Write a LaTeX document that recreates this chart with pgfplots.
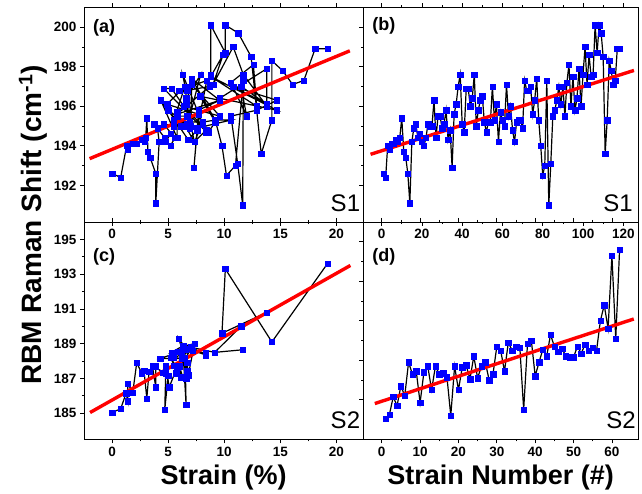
\documentclass[border=0pt]{standalone}
\usepackage{fontspec}
\setmainfont{Liberation Sans}
\usepackage{pgfplots}
\pgfplotsset{compat=1.18}
\usepackage{pgfplotstable}

\definecolor{ptblue}{RGB}{0,0,255}
\definecolor{fitred}{RGB}{255,0,0}

% sample S1: strain number, strain (%), RBM shift
\pgfplotstableread{
idx strain shift
1 0.00 192.6
2 0.77 192.4
3 1.30 194.0
4 1.40 193.8
5 1.85 194.1
6 2.20 194.1
7 2.65 194.3
8 2.90 194.2
9 3.00 194.4
10 3.10 195.4
11 3.20 193.7
12 3.40 193.4
13 3.90 192.6
14 3.90 191.1
15 4.20 194.2
16 4.05 194.9
17 3.75 195.1
18 4.70 194.4
19 5.20 194.6
20 4.80 194.2
21 5.20 194.0
22 5.60 194.4
23 4.60 195.1
24 5.50 195.0
25 6.10 195.0
26 4.35 196.3
27 5.80 194.4
28 5.80 195.5
29 6.70 195.5
30 6.90 194.9
31 6.70 195.1
32 5.00 195.8
33 6.80 194.3
34 7.60 194.8
35 7.30 192.9
36 7.70 195.6
37 4.90 196.1
38 6.50 197.0
39 6.30 197.6
40 8.10 195.1
41 8.40 194.7
42 4.60 196.9
43 5.30 196.9
44 6.40 196.0
45 6.60 196.4
46 7.90 197.6
47 6.70 195.0
48 7.70 195.8
49 9.60 196.3
50 7.85 196.5
51 9.20 195.2
52 8.60 194.7
53 8.10 195.2
54 6.90 195.2
55 6.50 197.0
56 5.50 195.3
57 6.60 196.1
58 7.35 194.2
59 5.80 195.7
60 5.50 195.3
61 7.00 195.0
62 7.10 197.1
63 9.60 195.5
64 6.40 196.0
65 8.40 194.8
66 7.35 194.2
67 8.10 195.2
68 9.20 195.3
69 10.60 195.3
70 7.60 194.9
71 8.45 197.3
72 6.00 196.8
73 6.70 196.8
74 8.70 197.0
75 5.80 195.6
76 9.60 196.3
77 7.10 197.4
78 9.20 195.3
79 9.80 194.0
80 10.20 192.5
81 11.00 193.0
82 11.70 197.3
83 11.65 191.0
84 11.20 193.1
85 10.60 195.5
86 12.90 195.8
87 14.70 196.3
88 10.80 197.0
89 13.80 196.1
90 11.50 197.0
91 12.00 195.5
92 10.60 197.2
93 12.60 198.1
94 12.90 196.0
95 8.80 197.5
96 14.70 195.8
97 9.60 196.4
98 13.80 197.9
99 13.80 196.0
100 11.70 197.6
101 10.80 199.0
102 9.00 197.1
103 9.90 198.6
104 8.80 197.5
105 8.80 197.6
106 8.80 200.1
107 10.10 198.7
108 10.10 200.1
109 11.25 199.7
110 12.40 198.5
111 13.30 193.6
112 14.25 195.3
113 14.25 198.3
114 15.20 197.8
115 16.10 197.1
116 17.10 197.3
117 18.10 198.9
118 19.20 198.9
}\sone

% sample S2
\pgfplotstableread{
idx strain shift
1 0.00 185.05
2 0.77 185.25
3 1.25 186.15
4 1.40 185.70
5 1.40 186.70
6 1.85 186.20
7 2.20 187.90
8 2.65 187.30
9 2.85 187.45
10 3.10 185.85
11 3.30 187.40
12 3.90 187.70
13 3.90 186.50
14 3.60 187.70
15 4.80 187.30
16 4.50 187.35
17 5.00 187.15
18 4.70 185.20
19 4.80 187.70
20 5.10 186.50
21 5.80 187.65
22 5.50 187.75
23 6.10 187.05
24 5.20 188.20
25 6.30 187.10
26 6.00 187.70
27 6.70 187.90
28 6.60 187.00
29 5.70 187.30
30 7.05 188.70
31 6.20 188.50
32 6.70 187.45
33 6.40 188.90
34 5.30 188.50
35 6.90 188.70
36 6.50 188.65
37 6.60 185.50
38 6.30 188.85
39 7.35 189.00
40 6.80 187.20
41 6.70 187.90
42 5.90 188.55
43 6.45 188.20
44 5.95 189.30
45 6.60 188.70
46 8.35 188.45
47 7.20 188.60
48 5.50 188.20
49 6.20 188.15
50 4.30 188.15
51 6.80 188.70
52 8.35 188.35
53 7.00 188.80
54 9.15 188.50
55 11.65 188.65
56 9.15 188.50
57 11.50 190.00
58 13.80 190.80
59 9.80 189.60
60 10.10 193.30
61 14.25 189.10
62 19.20 193.60
}\stwo

\pgfplotsset{
  panel/.style={
    scale only axis,
    axis line style={line width=0.8pt},
    tick align=outside,
    major tick length=4pt,
    minor tick length=2.2pt,
    tick style={black, line width=0.7pt},
    xtick pos=both,
    ytick pos=left,
    minor x tick num=1,
    minor y tick num=1,
    /pgf/number format/assume math mode=true,
    ticklabel style={font=\fontsize{13.5}{13.5}\selectfont\bfseries},
  },
  data/.style={black, line width=1.2pt, mark=square*, mark size=2.7pt,
    mark options={ptblue, fill=ptblue, line width=0.3pt}},
  fit/.style={fitred, line width=3.4pt},
  bigx/.style={xlabel style={font=\fontsize{27}{27}\selectfont\bfseries, yshift=-2pt}},
}
\tikzset{
  plabel/.style={anchor=north west, inner sep=0pt, font=\fontsize{18}{18}\selectfont\bfseries},
  slabel/.style={anchor=south east, inner sep=0pt, font=\fontsize{24}{24}\selectfont},
}

\begin{document}
\begin{tikzpicture}
\useasboundingbox (0,0) rectangle (642pt,494pt);

%% (a) shift vs strain, S1
\begin{axis}[panel,
  at={(84pt,272pt)}, anchor=south west,
  width=279.3pt, height=214.7pt,
  xmin=-2.5, xmax=22.4, ymin=190.15, ymax=201,
  xtick={0,5,10,15,20}, ytick={192,194,196,198,200},
]
\addplot[data] table[x=strain, y=shift] {\sone};
\addplot[fit] coordinates {(-2,193.35) (21.2,198.8)};
\node[plabel] at (rel axis cs:0.032,0.945) {(a)};
\node[slabel] at (rel axis cs:1,0) [xshift=-3pt, yshift=10pt] {S1};
\end{axis}

%% (b) shift vs strain number, S1
\begin{axis}[panel,
  at={(363.3pt,272pt)}, anchor=south west,
  width=274.7pt, height=214.7pt,
  xmin=-9.1, xmax=127.3, ymin=190.15, ymax=201,
  xtick={0,20,40,60,80,100,120}, ytick={192,194,196,198,200},
  yticklabels={},
]
\addplot[data] table[x=idx, y=shift] {\sone};
\addplot[fit] coordinates {(-5.5,193.57) (125.3,197.81)};
\node[plabel] at (rel axis cs:0.032,0.955) {(b)};
\node[slabel] at (rel axis cs:1,0) [xshift=-5pt, yshift=10pt] {S1};
\end{axis}

%% (c) shift vs strain, S2
\begin{axis}[panel, bigx,
  at={(84pt,54.7pt)}, anchor=south west,
  width=279.3pt, height=217.3pt,
  xmin=-2.5, xmax=22.4, ymin=183.5, ymax=196,
  xtick={0,5,10,15,20}, ytick={185,187,189,191,193,195},
  xlabel={Strain (\%)},
]
\addplot[data] table[x=strain, y=shift] {\stwo};
\addplot[fit] coordinates {(-1.96,185.04) (21.25,193.5)};
\node[plabel] at (rel axis cs:0.032,0.88) {(c)};
\node[slabel] at (rel axis cs:1,0) [xshift=-3pt, yshift=10pt] {S2};
\end{axis}

%% (d) shift vs strain number, S2
\begin{axis}[panel, bigx,
  at={(363.3pt,54.7pt)}, anchor=south west,
  width=274.7pt, height=217.3pt,
  xmin=-4.8, xmax=66.8, ymin=184, ymax=195,
  xtick={0,10,20,30,40,50,60}, ytick={186,188,190,192,194},
  yticklabels={},
  xlabel={Strain Number (\#)},
]
\addplot[data] table[x=idx, y=shift] {\stwo};
\addplot[fit] coordinates {(-1.8,185.81) (65.7,190.09)};
\node[plabel] at (rel axis cs:0.032,0.88) {(d)};
\node[slabel] at (rel axis cs:1,0) [xshift=-2pt, yshift=10pt] {S2};
\end{axis}

\node[rotate=90, font=\fontsize{28}{28}\selectfont\bfseries] at (33pt,269pt)
  {RBM Raman Shift (cm\textsuperscript{-1})};
\end{tikzpicture}
\end{document}
